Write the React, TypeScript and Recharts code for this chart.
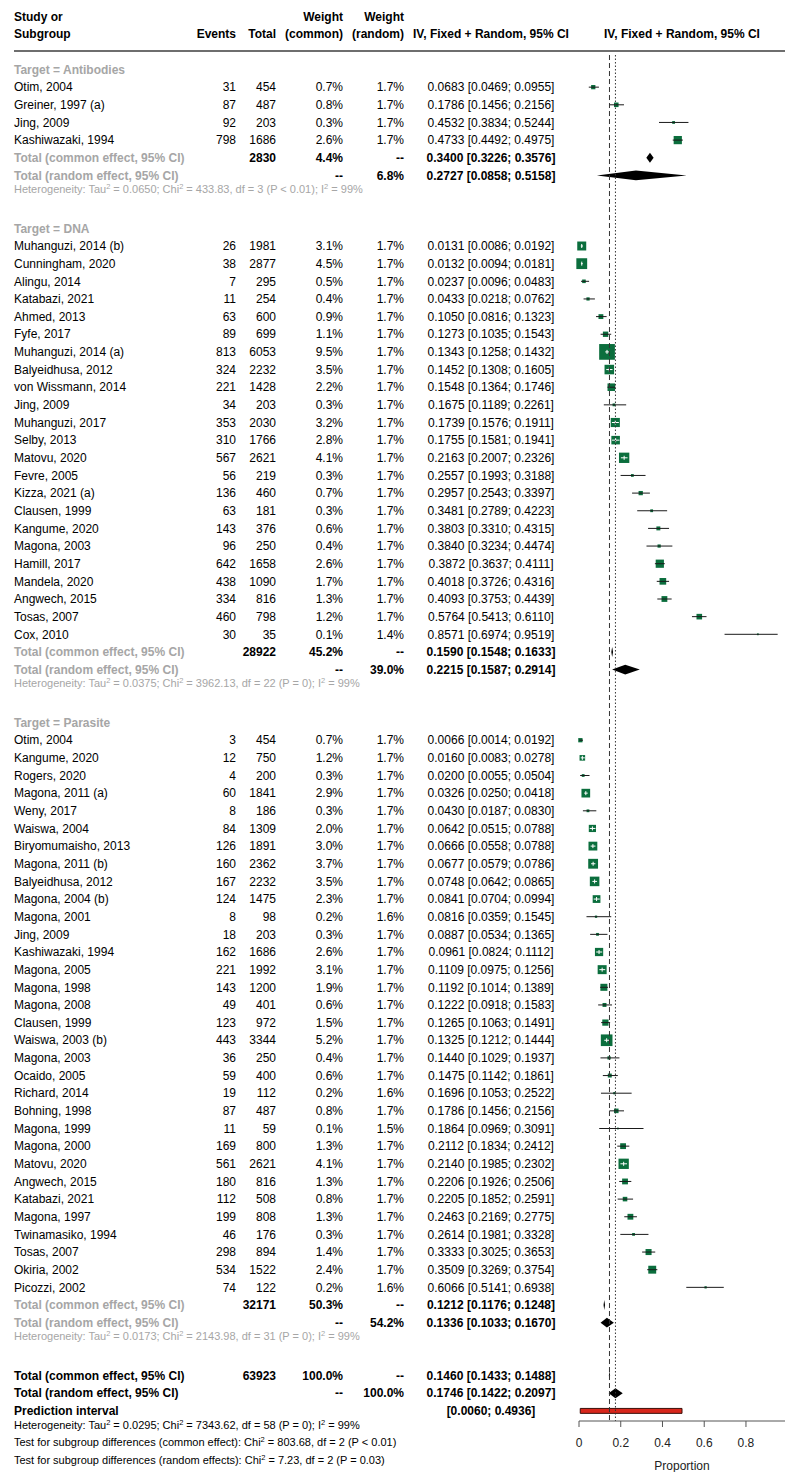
import React from "react";
import { ComposedChart, XAxis, YAxis, ReferenceArea, ReferenceLine } from "recharts";

// [study, events, total, weight common %, weight random %, proportion, lower, upper]
type Study = [string, number, number, number, number, number, number, number];

const antibodyStudies: Study[] = [
  ["Otim, 2004", 31, 454, 0.7, 1.7, 0.0683, 0.0469, 0.0955],
  ["Greiner, 1997 (a)", 87, 487, 0.8, 1.7, 0.1786, 0.1456, 0.2156],
  ["Jing, 2009", 92, 203, 0.3, 1.7, 0.4532, 0.3834, 0.5244],
  ["Kashiwazaki, 1994", 798, 1686, 2.6, 1.7, 0.4733, 0.4492, 0.4975],
];

const dnaStudies: Study[] = [
  ["Muhanguzi, 2014 (b)", 26, 1981, 3.1, 1.7, 0.0131, 0.0086, 0.0192],
  ["Cunningham, 2020", 38, 2877, 4.5, 1.7, 0.0132, 0.0094, 0.0181],
  ["Alingu, 2014", 7, 295, 0.5, 1.7, 0.0237, 0.0096, 0.0483],
  ["Katabazi, 2021", 11, 254, 0.4, 1.7, 0.0433, 0.0218, 0.0762],
  ["Ahmed, 2013", 63, 600, 0.9, 1.7, 0.105, 0.0816, 0.1323],
  ["Fyfe, 2017", 89, 699, 1.1, 1.7, 0.1273, 0.1035, 0.1543],
  ["Muhanguzi, 2014 (a)", 813, 6053, 9.5, 1.7, 0.1343, 0.1258, 0.1432],
  ["Balyeidhusa, 2012", 324, 2232, 3.5, 1.7, 0.1452, 0.1308, 0.1605],
  ["von Wissmann, 2014", 221, 1428, 2.2, 1.7, 0.1548, 0.1364, 0.1746],
  ["Jing, 2009", 34, 203, 0.3, 1.7, 0.1675, 0.1189, 0.2261],
  ["Muhanguzi, 2017", 353, 2030, 3.2, 1.7, 0.1739, 0.1576, 0.1911],
  ["Selby, 2013", 310, 1766, 2.8, 1.7, 0.1755, 0.1581, 0.1941],
  ["Matovu, 2020", 567, 2621, 4.1, 1.7, 0.2163, 0.2007, 0.2326],
  ["Fevre, 2005", 56, 219, 0.3, 1.7, 0.2557, 0.1993, 0.3188],
  ["Kizza, 2021 (a)", 136, 460, 0.7, 1.7, 0.2957, 0.2543, 0.3397],
  ["Clausen, 1999", 63, 181, 0.3, 1.7, 0.3481, 0.2789, 0.4223],
  ["Kangume, 2020", 143, 376, 0.6, 1.7, 0.3803, 0.331, 0.4315],
  ["Magona, 2003", 96, 250, 0.4, 1.7, 0.384, 0.3234, 0.4474],
  ["Hamill, 2017", 642, 1658, 2.6, 1.7, 0.3872, 0.3637, 0.4111],
  ["Mandela, 2020", 438, 1090, 1.7, 1.7, 0.4018, 0.3726, 0.4316],
  ["Angwech, 2015", 334, 816, 1.3, 1.7, 0.4093, 0.3753, 0.4439],
  ["Tosas, 2007", 460, 798, 1.2, 1.7, 0.5764, 0.5413, 0.611],
  ["Cox, 2010", 30, 35, 0.1, 1.4, 0.8571, 0.6974, 0.9519],
];

const parasiteStudies: Study[] = [
  ["Otim, 2004", 3, 454, 0.7, 1.7, 0.0066, 0.0014, 0.0192],
  ["Kangume, 2020", 12, 750, 1.2, 1.7, 0.016, 0.0083, 0.0278],
  ["Rogers, 2020", 4, 200, 0.3, 1.7, 0.02, 0.0055, 0.0504],
  ["Magona, 2011 (a)", 60, 1841, 2.9, 1.7, 0.0326, 0.025, 0.0418],
  ["Weny, 2017", 8, 186, 0.3, 1.7, 0.043, 0.0187, 0.083],
  ["Waiswa, 2004", 84, 1309, 2.0, 1.7, 0.0642, 0.0515, 0.0788],
  ["Biryomumaisho, 2013", 126, 1891, 3.0, 1.7, 0.0666, 0.0558, 0.0788],
  ["Magona, 2011 (b)", 160, 2362, 3.7, 1.7, 0.0677, 0.0579, 0.0786],
  ["Balyeidhusa, 2012", 167, 2232, 3.5, 1.7, 0.0748, 0.0642, 0.0865],
  ["Magona, 2004 (b)", 124, 1475, 2.3, 1.7, 0.0841, 0.0704, 0.0994],
  ["Magona, 2001", 8, 98, 0.2, 1.6, 0.0816, 0.0359, 0.1545],
  ["Jing, 2009", 18, 203, 0.3, 1.7, 0.0887, 0.0534, 0.1365],
  ["Kashiwazaki, 1994", 162, 1686, 2.6, 1.7, 0.0961, 0.0824, 0.1112],
  ["Magona, 2005", 221, 1992, 3.1, 1.7, 0.1109, 0.0975, 0.1256],
  ["Magona, 1998", 143, 1200, 1.9, 1.7, 0.1192, 0.1014, 0.1389],
  ["Magona, 2008", 49, 401, 0.6, 1.7, 0.1222, 0.0918, 0.1583],
  ["Clausen, 1999", 123, 972, 1.5, 1.7, 0.1265, 0.1063, 0.1491],
  ["Waiswa, 2003 (b)", 443, 3344, 5.2, 1.7, 0.1325, 0.1212, 0.1444],
  ["Magona, 2003", 36, 250, 0.4, 1.7, 0.144, 0.1029, 0.1937],
  ["Ocaido, 2005", 59, 400, 0.6, 1.7, 0.1475, 0.1142, 0.1861],
  ["Richard, 2014", 19, 112, 0.2, 1.6, 0.1696, 0.1053, 0.2522],
  ["Bohning, 1998", 87, 487, 0.8, 1.7, 0.1786, 0.1456, 0.2156],
  ["Magona, 1999", 11, 59, 0.1, 1.5, 0.1864, 0.0969, 0.3091],
  ["Magona, 2000", 169, 800, 1.3, 1.7, 0.2112, 0.1834, 0.2412],
  ["Matovu, 2020", 561, 2621, 4.1, 1.7, 0.214, 0.1985, 0.2302],
  ["Angwech, 2015", 180, 816, 1.3, 1.7, 0.2206, 0.1926, 0.2506],
  ["Katabazi, 2021", 112, 508, 0.8, 1.7, 0.2205, 0.1852, 0.2591],
  ["Magona, 1997", 199, 808, 1.3, 1.7, 0.2463, 0.2169, 0.2775],
  ["Twinamasiko, 1994", 46, 176, 0.3, 1.7, 0.2614, 0.1981, 0.3328],
  ["Tosas, 2007", 298, 894, 1.4, 1.7, 0.3333, 0.3025, 0.3653],
  ["Okiria, 2002", 534, 1522, 2.4, 1.7, 0.3509, 0.3269, 0.3754],
  ["Picozzi, 2002", 74, 122, 0.2, 1.6, 0.6066, 0.5141, 0.6938],
];

const groupNames = ["Antibodies", "DNA", "Parasite"];
const groupStudies = [antibodyStudies, dnaStudies, parasiteStudies];
// [total, weight %, proportion, lower, upper]
const groupCommon = [
  [2830, 4.4, 0.34, 0.3226, 0.3576],
  [28922, 45.2, 0.159, 0.1548, 0.1633],
  [32171, 50.3, 0.1212, 0.1176, 0.1248],
];
// [weight %, proportion, lower, upper]
const groupRandom = [
  [6.8, 0.2727, 0.0858, 0.5158],
  [39.0, 0.2215, 0.1587, 0.2914],
  [54.2, 0.1336, 0.1033, 0.167],
];
const groupHet = [
  "Heterogeneity: Tau^2 = 0.0650; Chi^2 = 433.83, df = 3 (P < 0.01); I^2 = 99%",
  "Heterogeneity: Tau^2 = 0.0375; Chi^2 = 3962.13, df = 22 (P = 0); I^2 = 99%",
  "Heterogeneity: Tau^2 = 0.0173; Chi^2 = 2143.98, df = 31 (P = 0); I^2 = 99%",
];

const overallCommon = [63923, 100.0, 0.146, 0.1433, 0.1488];
const overallRandom = [100.0, 0.1746, 0.1422, 0.2097];
const predictionInterval = [0.006, 0.4936];
const overallNotes = [
  "Heterogeneity: Tau^2 = 0.0295; Chi^2 = 7343.62, df = 58 (P = 0); I^2 = 99%",
  "Test for subgroup differences (common effect): Chi^2 = 803.68, df = 2 (P < 0.01)",
  "Test for subgroup differences (random effects): Chi^2 = 7.23, df = 2 (P = 0.03)",
];
const xTicks = [0, 0.2, 0.4, 0.6, 0.8];

// layout
const W = 785;
const H = 1472;
const Y0 = 69.5;
const ROW_H = 17.65;
const AXIS_Y = 1421;
const PLOT_LEFT = 579;
const PX_PER_UNIT = 208.7;
const X_MAX = (W - PLOT_LEFT) / PX_PER_UNIT;
const Y_MIN = -Y0 / ROW_H;
const Y_MAX = (AXIS_Y - Y0) / ROW_H;

const FONT = '"Liberation Sans", Arial, Helvetica, sans-serif';
const GRAY = "#a6a6a6";
const GREEN = "#0b6e3d";
const COL = { name: 14, events: 236, total: 276, wCom: 343, wRan: 404, ci: 491, plot: 682 };

type Row =
  | { i: number; kind: "head1" | "head2" | "rule" }
  | { i: number; kind: "title"; label: string }
  | { i: number; kind: "study"; s: Study }
  | { i: number; kind: "common" | "random"; label: string; gray: boolean; total?: number; w: number; est: number; lo: number; hi: number }
  | { i: number; kind: "pi"; lo: number; hi: number }
  | { i: number; kind: "note"; text: string; gray: boolean };

const rows: Row[] = [
  { i: -3, kind: "head1" },
  { i: -2, kind: "head2" },
  { i: -1.05, kind: "rule" },
];
let cursor = 0;
groupStudies.forEach((studies, g) => {
  rows.push({ i: cursor++, kind: "title", label: `Target = ${groupNames[g]}` });
  studies.forEach((s) => rows.push({ i: cursor++, kind: "study", s }));
  const [t, wc, ec, lc, hc] = groupCommon[g];
  rows.push({ i: cursor++, kind: "common", label: "Total (common effect, 95% CI)", gray: true, total: t, w: wc, est: ec, lo: lc, hi: hc });
  const [wr, er, lr, hr] = groupRandom[g];
  rows.push({ i: cursor++, kind: "random", label: "Total (random effect, 95% CI)", gray: true, w: wr, est: er, lo: lr, hi: hr });
  rows.push({ i: cursor++, kind: "note", text: groupHet[g], gray: true });
  cursor++;
});
rows.push({
  i: cursor++, kind: "common", label: "Total (common effect, 95% CI)", gray: false,
  total: overallCommon[0], w: overallCommon[1], est: overallCommon[2], lo: overallCommon[3], hi: overallCommon[4],
});
rows.push({
  i: cursor++, kind: "random", label: "Total (random effect, 95% CI)", gray: false,
  w: overallRandom[0], est: overallRandom[1], lo: overallRandom[2], hi: overallRandom[3],
});
const piRow = cursor++;
rows.push({ i: piRow, kind: "pi", lo: predictionInterval[0], hi: predictionInterval[1] });
overallNotes.forEach((text) => rows.push({ i: cursor++, kind: "note", text, gray: false }));

const rowByIndex = new Map(rows.map((r) => [r.i, r]));

const f4 = (v: number) => v.toFixed(4);
const pct = (v: number) => `${v.toFixed(1)}%`;
const ciText = (est: number, lo: number, hi: number) => `${f4(est)} [${f4(lo)}; ${f4(hi)}]`;

// "^2" marks a superscript two
function withSup(text: string) {
  const parts = text.split("^2");
  const out: React.ReactNode[] = [];
  parts.forEach((p, k) => {
    out.push(<tspan key={`t${k}`} dy={k === 0 ? 0 : 4}>{p}</tspan>);
    if (k < parts.length - 1) {
      out.push(<tspan key={`s${k}`} dy={-4} fontSize={7.5}>2</tspan>);
    }
  });
  return out;
}

function Cell({ x, y, anchor = "end", bold, fill = "#000", size = 12, children }: any) {
  return (
    <text x={x} y={y} dy="0.35em" textAnchor={anchor} fontWeight={bold ? "bold" : "normal"} fill={fill} fontSize={size}>
      {children}
    </text>
  );
}

function RowTick(props: any) {
  const { y, payload } = props;
  const row = rowByIndex.get(payload?.value);
  if (!row) return <g />;
  switch (row.kind) {
    case "head1":
      return (
        <g>
          <Cell x={COL.name} y={y} anchor="start" bold>Study or</Cell>
          <Cell x={COL.wCom} y={y} bold>Weight</Cell>
          <Cell x={COL.wRan} y={y} bold>Weight</Cell>
        </g>
      );
    case "head2":
      return (
        <g>
          <Cell x={COL.name} y={y} anchor="start" bold>Subgroup</Cell>
          <Cell x={COL.events} y={y} bold>Events</Cell>
          <Cell x={COL.total} y={y} bold>Total</Cell>
          <Cell x={COL.wCom} y={y} bold>(common)</Cell>
          <Cell x={COL.wRan} y={y} bold>(random)</Cell>
          <Cell x={COL.ci} y={y} anchor="middle" bold>IV, Fixed + Random, 95% CI</Cell>
          <Cell x={COL.plot} y={y} anchor="middle" bold>IV, Fixed + Random, 95% CI</Cell>
        </g>
      );
    case "rule":
      return <line x1={COL.name} x2={W} y1={y} y2={y} stroke="#6e6e6e" strokeWidth={2} />;
    case "title":
      return <Cell x={COL.name} y={y} anchor="start" bold fill={GRAY}>{row.label}</Cell>;
    case "study": {
      const [name, ev, tot, wc, wr, est, lo, hi] = row.s;
      return (
        <g>
          <Cell x={COL.name} y={y} anchor="start">{name}</Cell>
          <Cell x={COL.events} y={y}>{ev}</Cell>
          <Cell x={COL.total} y={y}>{tot}</Cell>
          <Cell x={COL.wCom} y={y}>{pct(wc)}</Cell>
          <Cell x={COL.wRan} y={y}>{pct(wr)}</Cell>
          <Cell x={COL.ci} y={y} anchor="middle">{ciText(est, lo, hi)}</Cell>
        </g>
      );
    }
    case "common":
      return (
        <g>
          <Cell x={COL.name} y={y} anchor="start" bold fill={row.gray ? GRAY : "#000"}>{row.label}</Cell>
          <Cell x={COL.total} y={y} bold>{row.total}</Cell>
          <Cell x={COL.wCom} y={y} bold>{pct(row.w)}</Cell>
          <Cell x={COL.wRan} y={y} bold>--</Cell>
          <Cell x={COL.ci} y={y} anchor="middle" bold>{ciText(row.est, row.lo, row.hi)}</Cell>
        </g>
      );
    case "random":
      return (
        <g>
          <Cell x={COL.name} y={y} anchor="start" bold fill={row.gray ? GRAY : "#000"}>{row.label}</Cell>
          <Cell x={COL.wCom} y={y} bold>--</Cell>
          <Cell x={COL.wRan} y={y} bold>{pct(row.w)}</Cell>
          <Cell x={COL.ci} y={y} anchor="middle" bold>{ciText(row.est, row.lo, row.hi)}</Cell>
        </g>
      );
    case "pi":
      return (
        <g>
          <Cell x={COL.name} y={y} anchor="start" bold>Prediction interval</Cell>
          <Cell x={COL.ci} y={y} anchor="middle" bold>{`[${f4(row.lo)}; ${f4(row.hi)}]`}</Cell>
        </g>
      );
    case "note":
      return (
        <Cell x={COL.name} y={y} anchor="start" size={11} fill={row.gray ? GRAY : "#000"}>
          {withSup(row.text)}
        </Cell>
      );
  }
  return <g />;
}

// study: CI whisker, weight-scaled square, white whisker when CI fits in the square
function studyShape(s: Study) {
  const [, , , w, , est, lo, hi] = s;
  return (p: any) => {
    const { x, y, width, height } = p;
    const cy = y + height / 2;
    const cx = x + (width * (est - lo)) / (hi - lo);
    const side = Math.max(1.8, 5.1 * Math.sqrt(w));
    const inside = x >= cx - side / 2 && x + width <= cx + side / 2;
    return (
      <g>
        <rect x={cx - side / 2} y={cy - side / 2} width={side} height={side} fill={GREEN} />
        {inside ? (
          <g stroke="#fff" strokeWidth={1}>
            <line x1={x} x2={x + width} y1={cy} y2={cy} />
            <line x1={cx} x2={cx} y1={cy - 2} y2={cy + 2} />
          </g>
        ) : (
          <line x1={x} x2={x + width} y1={cy} y2={cy} stroke="#1a1a1a" strokeWidth={1} />
        )}
      </g>
    );
  };
}

function diamondShape(est: number, lo: number, hi: number) {
  return (p: any) => {
    const { x, y, width, height } = p;
    const cy = y + height / 2;
    const cx = x + (width * (est - lo)) / (hi - lo);
    return <polygon points={`${x},${cy} ${cx},${y} ${x + width},${cy} ${cx},${y + height}`} fill="#000" />;
  };
}

const studyRows = rows.filter((r) => r.kind === "study") as Extract<Row, { kind: "study" }>[];
const summaryRows = rows.filter((r) => r.kind === "common" || r.kind === "random") as Extract<Row, { kind: "common" }>[];

export default function App() {
  return (
    <div style={{ position: "absolute", left: 0, top: 0, width: W, height: H, background: "#fff" }}>
      <ComposedChart
        width={W}
        height={H}
        data={rows.map((r) => ({ i: r.i }))}
        margin={{ top: 0, right: 0, bottom: 0, left: 0 }}
        style={{ fontFamily: FONT }}
      >
        <XAxis
          type="number"
          dataKey="x"
          domain={[0, X_MAX]}
          allowDataOverflow
          ticks={xTicks}
          interval={0}
          height={H - AXIS_Y}
          tickSize={6}
          tickMargin={11}
          stroke="#555"
          tick={{ fontSize: 12, fill: "#222" }}
          tickFormatter={(v: number) => String(v)}
          label={{ value: "Proportion", position: "insideBottom", offset: 2, fontSize: 12, fill: "#222" }}
        />
        <YAxis
          type="number"
          dataKey="i"
          domain={[Y_MIN, Y_MAX]}
          allowDataOverflow
          reversed
          width={PLOT_LEFT}
          ticks={rows.map((r) => r.i)}
          interval={0}
          axisLine={false}
          tickLine={false}
          tick={(p: any) => <RowTick {...p} />}
        />
        <ReferenceLine
          segment={[{ x: overallCommon[2], y: -0.82 }, { x: overallCommon[2], y: Y_MAX }]}
          stroke="#333"
          strokeDasharray="5 3"
          ifOverflow="visible"
        />
        <ReferenceLine
          segment={[{ x: overallRandom[1], y: -0.82 }, { x: overallRandom[1], y: Y_MAX }]}
          stroke="#333"
          strokeDasharray="1.5 2"
          ifOverflow="visible"
        />
        {studyRows.map((r) => (
          <ReferenceArea
            key={`s${r.i}`}
            x1={r.s[6]}
            x2={r.s[7]}
            y1={r.i - 0.45}
            y2={r.i + 0.45}
            ifOverflow="visible"
            shape={studyShape(r.s)}
          />
        ))}
        {summaryRows.map((r) => (
          <ReferenceArea
            key={`d${r.i}`}
            x1={r.lo}
            x2={r.hi}
            y1={r.i - 0.28}
            y2={r.i + 0.28}
            ifOverflow="visible"
            shape={diamondShape(r.est, r.lo, r.hi)}
          />
        ))}
        <ReferenceArea
          x1={predictionInterval[0]}
          x2={predictionInterval[1]}
          y1={piRow - 0.14}
          y2={piRow + 0.14}
          ifOverflow="visible"
          fill="#d8261b"
          fillOpacity={1}
          stroke="#3b0f0a"
          strokeWidth={1}
        />
      </ComposedChart>
    </div>
  );
}
